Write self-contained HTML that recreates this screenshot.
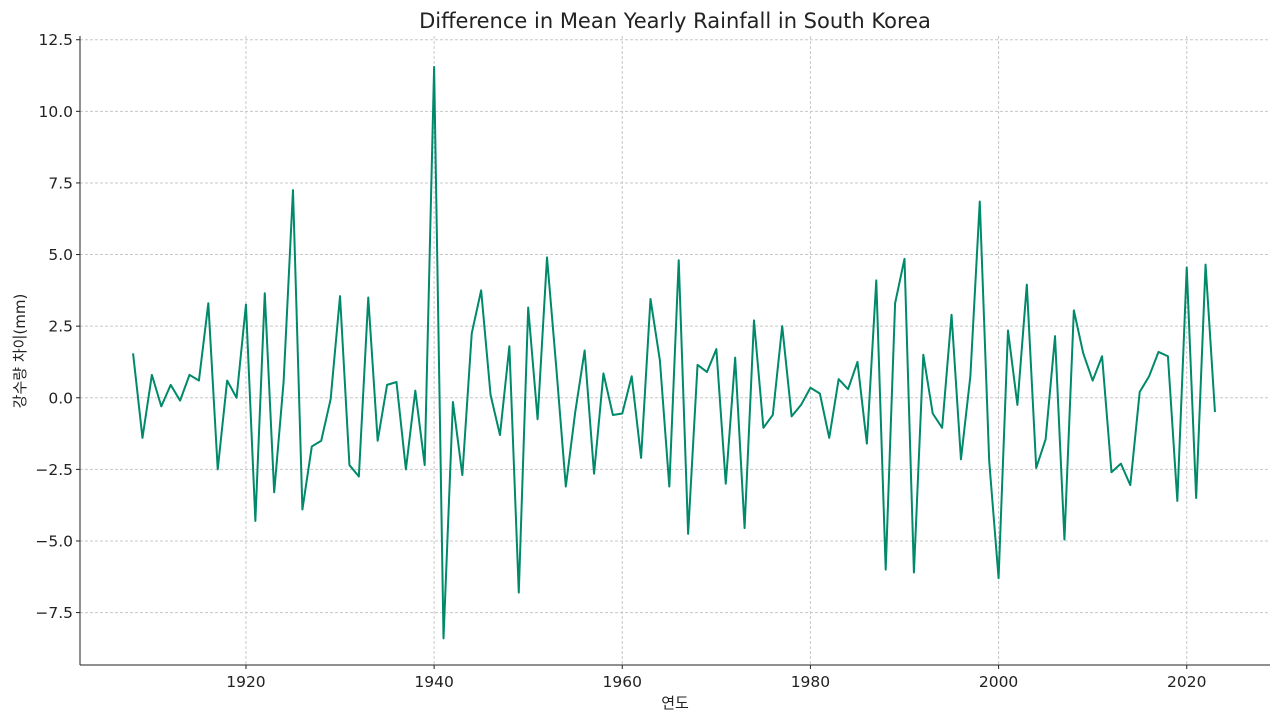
<!DOCTYPE html>
<html><head><meta charset="utf-8"><style>
body{margin:0;background:#fff;}
svg text{font-family:"DejaVu Sans","Liberation Sans","Noto Sans CJK KR",sans-serif;fill:#222;}
</style></head><body>
<svg id="chart" width="1280" height="721" xmlns="http://www.w3.org/2000/svg">
<text x="675" y="28" font-size="21" text-anchor="middle">Difference in Mean Yearly Rainfall in South Korea</text>
<g id="grid"></g><g id="axes"></g><g id="series"></g>
<text x="675" y="708" font-size="15" text-anchor="middle" style='font-family:"Noto Sans CJK KR",sans-serif'>연도</text>
<text transform="translate(25,351) rotate(-90)" font-size="15" text-anchor="middle" style='font-family:"DejaVu Sans","Noto Sans CJK KR",sans-serif'>강수량 차이(mm)</text>
</svg>
<script>
const startYear = 1908;
const values = [1.55,-1.4,0.8,-0.3,0.45,-0.1,0.8,0.6,3.3,-2.5,0.6,0.0,3.25,-4.3,3.65,-3.3,0.55,7.25,-3.9,-1.7,-1.5,-0.05,3.55,-2.35,-2.75,3.5,-1.5,0.45,0.55,-2.5,0.25,-2.35,11.55,-8.4,-0.15,-2.7,2.25,3.75,0.1,-1.3,1.8,-6.8,3.15,-0.75,4.9,1.0,-3.1,-0.5,1.65,-2.65,0.85,-0.6,-0.55,0.75,-2.1,3.45,1.3,-3.1,4.8,-4.75,1.15,0.9,1.7,-3.0,1.4,-4.55,2.7,-1.05,-0.6,2.5,-0.65,-0.25,0.35,0.15,-1.4,0.65,0.3,1.25,-1.6,4.1,-6.0,3.3,4.85,-6.1,1.5,-0.55,-1.05,2.9,-2.15,0.75,6.85,-2.2,-6.3,2.35,-0.25,3.95,-2.45,-1.45,2.15,-4.95,3.05,1.55,0.6,1.45,-2.6,-2.3,-3.05,0.2,0.75,1.6,1.45,-3.6,4.55,-3.5,4.65,-0.5];
const xTicks = [1920,1940,1960,1980,2000,2020];
const yTicks = [-7.5,-5.0,-2.5,0.0,2.5,5.0,7.5,10.0,12.5];

const L=80,R=1270,T=36,B=665;
const x0=1902.36,x1=2028.85,y0=-9.33,y1=12.63;
const X=v=>L+(v-x0)/(x1-x0)*(R-L);
const Y=v=>B-(v-y0)/(y1-y0)*(B-T);
const NS="http://www.w3.org/2000/svg";
function mk(tag,attrs,parent){const e=document.createElementNS(NS,tag);for(const k in attrs)e.setAttribute(k,attrs[k]);parent.appendChild(e);return e;}
const grid=document.getElementById('grid'),axes=document.getElementById('axes'),series=document.getElementById('series');
xTicks.forEach(t=>{
  const g=mk('line',{x1:X(t),x2:X(t),y1:T,y2:B,stroke:'#c8c8c8','stroke-dasharray':'3,2','stroke-width':1},grid);
  
  
  mk('line',{x1:X(t),x2:X(t),y1:B,y2:B+4,stroke:'#222'},axes);
  const tx=mk('text',{x:X(t),y:B+22,'font-size':15.5,'text-anchor':'middle'},axes);
  tx.textContent=t;
  
  
});
yTicks.forEach(t=>{
  const g=mk('line',{x1:L,x2:R,y1:Y(t),y2:Y(t),stroke:'#c8c8c8','stroke-dasharray':'3,2','stroke-width':1},grid);
  
  
  mk('line',{x1:L-4,x2:L,y1:Y(t),y2:Y(t),stroke:'#222'},axes);
  const tx=mk('text',{x:L-7,y:Y(t)+5.5,'font-size':15.5,'text-anchor':'end'},axes);
  tx.textContent=(t<0?'\u2212':'')+Math.abs(t).toFixed(1);
  
  
});
const ya=mk('line',{x1:L,x2:L,y1:T,y2:B,stroke:'#222','stroke-width':1},axes);


const xa=mk('line',{x1:L,x2:R,y1:B,y2:B,stroke:'#222','stroke-width':1},axes);


const pts=values.map((v,i)=>X(startYear+i).toFixed(2)+','+Y(v).toFixed(2)).join(' ');
const pl=mk('polyline',{points:pts,fill:'none',stroke:'#00896a','stroke-width':2,'stroke-linejoin':'round'},series);


</script>
</body></html>
